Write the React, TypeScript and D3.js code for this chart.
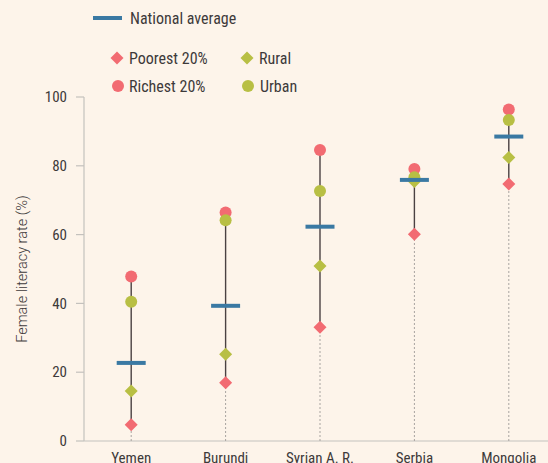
import React from 'react';
import * as d3 from 'd3';

const countries = ['Yemen', 'Burundi', 'Syrian A. R.', 'Serbia', 'Mongolia'];
const poorest = [4.7, 16.9, 33.1, 60.1, 74.7];
const rural = [14.5, 25.2, 50.9, 75.4, 82.4];
const national = [22.7, 39.3, 62.3, 75.9, 88.5];
const urban = [40.5, 64.2, 72.7, 76.7, 93.3];
const richest = [47.8, 66.4, 84.6, 79.1, 96.4];
const yTicks = [0, 20, 40, 60, 80, 100];

const W = 548;
const H = 463;
const RED = '#f26b72';
const OLIVE = '#b8bf44';
const BLUE = '#3a79a3';
const TEXT = '#3d3a3a';
const FONT = '"Liberation Sans Narrow", "Roboto Condensed", Roboto, sans-serif';

const diamond = (cx: number, cy: number, r: number) =>
  `M${cx},${cy - r}L${cx + r},${cy}L${cx},${cy + r}L${cx - r},${cy}Z`;

const App = () => {
  const x = d3.scaleBand().domain(countries).range([84, 556]);
  const y = d3.scaleLinear().domain([0, 100]).range([441, 97]);
  const cx = (c: string) => (x(c) as number) + x.bandwidth() / 2;

  return (
    <svg width={W} height={H} style={{ position: 'absolute', left: 0, top: 0 }} fontFamily={FONT}>
      <rect width={W} height={H} fill="#fdf4ea" />

      {/* legend */}
      <line x1={93} x2={122} y1={18} y2={18} stroke={BLUE} strokeWidth={4} />
      <text x={130} y={18} dy="0.35em" fontSize={16} fill={TEXT}>National average</text>
      <path d={diamond(117, 58, 6.5)} fill={RED} />
      <text x={129} y={58} dy="0.35em" fontSize={16} fill={TEXT}>Poorest 20%</text>
      <path d={diamond(247, 58, 6.5)} fill={OLIVE} />
      <text x={259} y={58} dy="0.35em" fontSize={16} fill={TEXT}>Rural</text>
      <circle cx={118} cy={86} r={6} fill={RED} />
      <text x={129} y={86} dy="0.35em" fontSize={16} fill={TEXT}>Richest 20%</text>
      <circle cx={248} cy={86} r={6} fill={OLIVE} />
      <text x={260} y={86} dy="0.35em" fontSize={16} fill={TEXT}>Urban</text>

      {/* axes */}
      <line x1={84} x2={84} y1={y(100)} y2={y(0)} stroke="#c4c1bd" strokeWidth={1.2} />
      <line x1={84} x2={W} y1={y(0)} y2={y(0)} stroke="#c4c1bd" strokeWidth={1.2} />
      {yTicks.map((t) => (
        <g key={t}>
          <line x1={76} x2={84} y1={y(t)} y2={y(t)} stroke="#c4c1bd" strokeWidth={1.2} />
          <text x={67} y={y(t)} dy="0.35em" textAnchor="end" fontSize={15} fill={TEXT}>{t}</text>
        </g>
      ))}
      <text transform={`translate(22,${y(50)}) rotate(-90)`} textAnchor="middle" dy="0.35em"
        fontSize={14.5} fontWeight={300} fontFamily="Roboto, sans-serif" fill={TEXT}>
        Female literacy rate (%)
      </text>

      {countries.map((c) => (
        <text key={c} x={cx(c)} y={463} textAnchor="middle" fontSize={15} fill={TEXT}>{c}</text>
      ))}

      {countries.map((c, i) => (
        <g key={c}>
          <line x1={cx(c)} x2={cx(c)} y1={y(0)} y2={y(poorest[i])} stroke="#a8a4a0" strokeWidth={1} strokeDasharray="2,2" />
          <line x1={cx(c)} x2={cx(c)} y1={y(poorest[i])} y2={y(richest[i])} stroke="#4a4142" strokeWidth={1.4} />
          <circle cx={cx(c)} cy={y(richest[i])} r={6} fill={RED} />
          <path d={diamond(cx(c), y(poorest[i]), 6.5)} fill={RED} />
          <circle cx={cx(c)} cy={y(urban[i])} r={6} fill={OLIVE} />
          <path d={diamond(cx(c), y(rural[i]), 6.5)} fill={OLIVE} />
          <line x1={cx(c) - 14.5} x2={cx(c) + 14.5} y1={y(national[i])} y2={y(national[i])} stroke={BLUE} strokeWidth={4} />
        </g>
      ))}
    </svg>
  );
};

export default App;
